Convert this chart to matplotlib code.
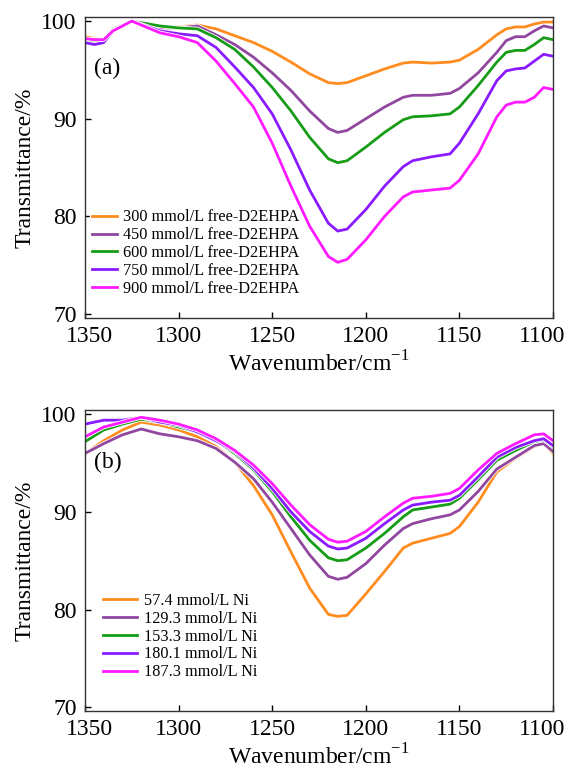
import matplotlib.pyplot as plt
import matplotlib.patheffects as pe
import matplotlib.transforms as mtransforms

plt.rcParams['font.family'] = ['Liberation Serif', 'DejaVu Serif']
plt.rcParams['mathtext.fontset'] = 'custom'
plt.rcParams['mathtext.rm'] = 'Liberation Serif'

colors = ["#ff8c1f", "#9146a0", "#169c16", "#8a1aff", "#ff1aff"]

# panel (a)
wn_a = [1350, 1345, 1340, 1335, 1325, 1310, 1300, 1290, 1280, 1270, 1260, 1250, 1240, 1230,
        1220, 1215, 1210, 1200, 1190, 1180, 1175, 1165, 1155, 1150, 1140, 1130, 1125, 1120,
        1115, 1110, 1105, 1100]
labels_a = ["300 mmol/L free-D2EHPA", "450 mmol/L free-D2EHPA", "600 mmol/L free-D2EHPA",
            "750 mmol/L free-D2EHPA", "900 mmol/L free-D2EHPA"]
t300 = [98.4, 98.2, 98.0, 99.0, 100.0, 99.3, 99.4, 99.6, 99.2, 98.5, 97.8, 96.9, 95.8, 94.6,
        93.7, 93.6, 93.7, 94.4, 95.1, 95.7, 95.8, 95.7, 95.8, 96.0, 97.1, 98.6, 99.2, 99.4,
        99.4, 99.7, 99.9, 99.9]
t450 = [98.0, 97.8, 98.1, 99.2, 100.0, 99.3, 99.3, 99.5, 98.6, 97.6, 96.3, 94.7, 92.9, 90.8,
        89.0, 88.6, 88.8, 90.0, 91.2, 92.2, 92.4, 92.4, 92.6, 93.1, 94.7, 96.8, 98.0, 98.4,
        98.4, 99.0, 99.5, 99.3]
t600 = [98.0, 97.8, 98.0, 99.1, 100.0, 99.5, 99.3, 99.2, 98.3, 97.1, 95.3, 93.2, 90.8, 88.1,
        85.9, 85.5, 85.7, 87.1, 88.6, 89.9, 90.2, 90.3, 90.5, 91.2, 93.4, 95.8, 96.8, 97.0,
        97.0, 97.6, 98.3, 98.1]
t750 = [97.8, 97.6, 97.8, 99.0, 100.0, 99.0, 98.7, 98.5, 97.3, 95.3, 93.2, 90.5, 86.8, 82.7,
        79.3, 78.5, 78.7, 80.7, 83.1, 85.1, 85.7, 86.1, 86.4, 87.5, 90.5, 93.9, 94.9, 95.1,
        95.2, 95.9, 96.6, 96.4]
t900 = [98.2, 98.1, 98.1, 99.0, 100.0, 98.8, 98.4, 97.8, 95.9, 93.6, 91.2, 87.5, 83.1, 79.0,
        75.9, 75.3, 75.6, 77.6, 80.0, 82.0, 82.5, 82.7, 82.9, 83.7, 86.4, 90.2, 91.4, 91.7,
        91.7, 92.2, 93.2, 93.0]

# panel (b)
wn_b = [1350, 1340, 1330, 1320, 1310, 1300, 1290, 1280, 1270, 1260, 1250, 1240, 1230, 1220,
        1215, 1210, 1200, 1190, 1180, 1175, 1165, 1155, 1150, 1140, 1130, 1120, 1110, 1105,
        1100]
labels_b = ["57.4 mmol/L Ni", "129.3 mmol/L Ni", "153.3 mmol/L Ni", "180.1 mmol/L Ni",
            "187.3 mmol/L Ni"]
ni57 = [96.0, 97.3, 98.4, 99.2, 98.9, 98.4, 97.7, 96.7, 95.1, 92.7, 89.7, 85.9, 82.2, 79.5,
        79.3, 79.4, 81.6, 83.9, 86.3, 86.8, 87.3, 87.8, 88.5, 91.0, 94.1, 95.5, 96.7, 97.0, 96.0]
ni129 = [96.0, 97.0, 97.9, 98.5, 98.0, 97.7, 97.3, 96.5, 95.1, 93.4, 91.0, 88.3, 85.6, 83.4,
         83.1, 83.3, 84.7, 86.6, 88.3, 88.8, 89.3, 89.7, 90.2, 92.1, 94.4, 95.6, 96.8, 97.0, 96.2]
ni153 = [97.2, 98.4, 99.0, 99.5, 99.2, 98.7, 98.2, 97.3, 96.0, 94.3, 92.1, 89.5, 87.1, 85.3,
         85.0, 85.1, 86.3, 87.8, 89.5, 90.2, 90.5, 90.8, 91.4, 93.3, 95.3, 96.3, 97.2, 97.4, 96.7]
ni180 = [99.0, 99.4, 99.4, 99.7, 99.2, 98.9, 98.2, 97.3, 96.2, 94.5, 92.4, 90.0, 88.0, 86.5,
         86.2, 86.3, 87.3, 88.8, 90.2, 90.7, 91.0, 91.2, 91.7, 93.6, 95.6, 96.6, 97.3, 97.5, 96.8]
ni187 = [97.7, 98.7, 99.2, 99.7, 99.4, 99.0, 98.4, 97.5, 96.3, 94.8, 92.9, 90.7, 88.7, 87.2,
         86.9, 87.0, 88.0, 89.5, 90.9, 91.4, 91.6, 91.9, 92.4, 94.3, 96.0, 97.0, 97.9, 98.0, 97.3]


def draw_panel(ax, x, series, labels, tag, leg_xy, hlen, hpad):
    halo = [pe.Stroke(linewidth=3.2, foreground="white"), pe.Normal()]
    for y, lab, c in zip(series, labels, colors):
        ax.plot(x, y, color=c, lw=2.0, label=lab, path_effects=halo)
    ax.set_xlim(1350, 1100)
    ax.set_ylim(69.6, 100.45)
    ax.set_xticks([1350, 1300, 1250, 1200, 1150, 1100])
    ax.set_yticks([70, 80, 90, 100])
    ax.tick_params(direction="in", labelsize=17, length=4, width=1, pad=6)
    ax.set_xlabel("Wavenumber/cm$^{-1}$", fontsize=17, labelpad=3)
    ax.set_ylabel("Transmittance/%", fontsize=17, labelpad=4)
    for s in ax.spines.values():
        s.set_linewidth(1.0)
        s.set_color("#333333")
    # end labels sit a little inward, as in the original
    fig = ax.figure
    xl = ax.get_xticklabels()
    xl[0].set_transform(xl[0].get_transform() +
                        mtransforms.ScaledTranslation(4 / 100, 0, fig.dpi_scale_trans))
    xl[-1].set_transform(xl[-1].get_transform() +
                         mtransforms.ScaledTranslation(-11 / 100, 0, fig.dpi_scale_trans))
    ax.text(1338, 95.1, tag, fontsize=17, ha="center", va="center")
    ax.legend(loc="upper left", bbox_to_anchor=leg_xy, bbox_transform=ax.transData,
              frameon=False, fontsize=11.7, handlelength=hlen, handletextpad=hpad,
              labelspacing=0.12, borderaxespad=0)


fig = plt.figure(figsize=(5.69, 7.69), dpi=100)
ax1 = fig.add_axes([0.1494, 0.5865, 0.8225, 0.3918])
ax2 = fig.add_axes([0.1494, 0.0754, 0.8225, 0.3915])

draw_panel(ax1, wn_a, [t300, t450, t600, t750, t900], labels_a, "(a)", (1350, 81.4), 1.56, 0.37)
draw_panel(ax2, wn_b, [ni57, ni129, ni153, ni180, ni187], labels_b, "(b)", (1343.6, 82.4), 2.07, 0.45)

fig.savefig("out.png", dpi=100)
